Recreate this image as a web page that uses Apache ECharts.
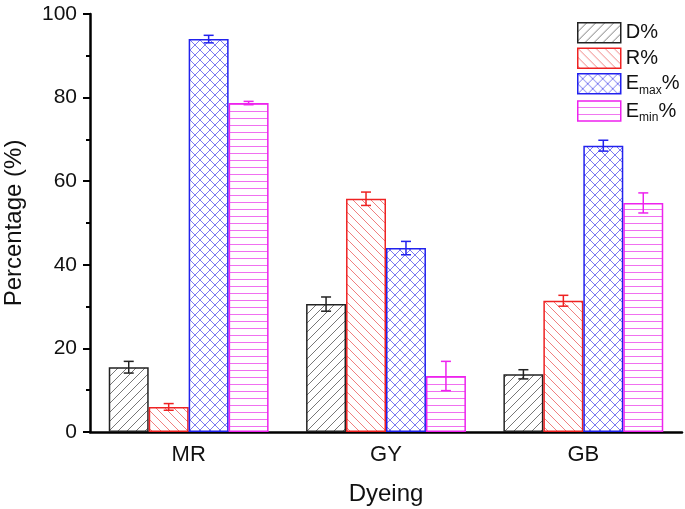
<!DOCTYPE html>
<html><head><meta charset="utf-8">
<script src="https://cdn.jsdelivr.net/npm/echarts@6/dist/echarts.min.js"></script>
<style>html,body{margin:0;padding:0;background:#fff}#c{width:685px;height:509px}</style>
</head><body><div id="c"></div>
<script>
const categories = ['MR', 'GY', 'GB'];
const seriesNames = ['D%', 'R%', 'Emax%', 'Emin%'];
const D = [15.5, 30.6, 13.8];
const R = [6.0, 55.8, 31.4];
const Emax = [94.0, 44.0, 68.5];
const Emin = [78.7, 13.4, 54.8];
const Derr = [1.4, 1.7, 1.1];
const Rerr = [0.8, 1.6, 1.3];
const EmaxErr = [0.9, 1.6, 1.3];
const EminErr = [0.4, 3.5, 2.4];
const yTicks = [0, 20, 40, 60, 80, 100];

const values = [D, R, Emax, Emin];
const errs = [Derr, Rerr, EmaxErr, EminErr];
const borderColors = ['#222222', '#ee2222', '#2222ee', '#ee22ee'];
const lineColors = ['#777777', '#f08080', '#7a7af0', '#f070f0'];
const FONT = 'Liberation Sans, Arial, sans-serif';

function makePattern(type, color) {
  const s = type === 'h' ? 7 : (type === 'x' ? 10 : 9);
  const c = document.createElement('canvas');
  c.width = s; c.height = s;
  const g = c.getContext('2d');
  g.fillStyle = '#fff'; g.fillRect(0, 0, s, s);
  g.strokeStyle = color; g.lineWidth = 1;
  g.beginPath();
  if (type === 'f') {
    g.moveTo(0, s); g.lineTo(s, 0);
    g.moveTo(-1, 1); g.lineTo(1, -1);
    g.moveTo(s - 1, s + 1); g.lineTo(s + 1, s - 1);
  } else if (type === 'b') {
    g.moveTo(0, 0); g.lineTo(s, s);
    g.moveTo(s - 1, -1); g.lineTo(s + 1, 1);
    g.moveTo(-1, s - 1); g.lineTo(1, s + 1);
  } else if (type === 'x') {
    g.moveTo(0, 0); g.lineTo(s, s);
    g.moveTo(0, s); g.lineTo(s, 0);
  } else if (type === 'h') {
    g.moveTo(0, s - 0.5); g.lineTo(s, s - 0.5);
  }
  g.stroke();
  return { image: c, repeat: 'repeat' };
}
const patterns = [
  makePattern('f', lineColors[0]),
  makePattern('b', lineColors[1]),
  makePattern('x', lineColors[2]),
  makePattern('h', lineColors[3])
];

const GAP = 0.19;
const chart = echarts.init(document.getElementById('c'), null, { renderer: 'canvas' });

const series = [];
values.forEach((v, i) => {
  series.push({
    name: seriesNames[i],
    type: 'bar',
    data: v,
    barGap: '0%',
    barCategoryGap: (GAP * 100) + '%',
    itemStyle: { color: patterns[i], borderColor: borderColors[i], borderWidth: 1.5 },
    z: 2
  });
});
values.forEach((v, i) => {
  series.push({
    name: seriesNames[i] + '_err',
    type: 'custom',
    data: v.map((val, k) => [k, val, errs[i][k]]),
    z: 5,
    renderItem: function (params, api) {
      const k = api.value(0);
      const center = api.coord([k, api.value(1)]);
      const catW = api.size([1, 0])[0];
      const bw = catW * (1 - GAP) / 4;
      const x = center[0] + (i - 1.5) * bw;
      const top = api.coord([k, api.value(1) + api.value(2)])[1];
      const bot = api.coord([k, api.value(1) - api.value(2)])[1];
      const cap = 5;
      const st = { stroke: borderColors[i], lineWidth: 1.5 };
      return {
        type: 'group',
        children: [
          { type: 'line', shape: { x1: x, y1: top, x2: x, y2: bot }, style: st },
          { type: 'line', shape: { x1: x - cap, y1: top, x2: x + cap, y2: top }, style: st },
          { type: 'line', shape: { x1: x - cap, y1: bot, x2: x + cap, y2: bot }, style: st }
        ]
      };
    }
  });
});

const option = {
  backgroundColor: '#fff',
  animation: false,
  textStyle: { fontFamily: FONT },
  legend: {
    data: seriesNames.map(n => ({ name: n, icon: 'rect' })),
    orient: 'vertical',
    left: 577, top: 22, padding: 0,
    itemWidth: 43, itemHeight: 20,
    itemGap: 4,
    itemStyle: { borderWidth: 1.5 },
    formatter: function (name) {
      if (name === 'Emax%') return 'E{sub|max}%';
      if (name === 'Emin%') return 'E{sub|min}%';
      return name;
    },
    textStyle: {
      fontSize: 20, color: '#111', fontFamily: FONT,
      rich: {
        sub: { fontSize: 12, verticalAlign: 'bottom', padding: [13, 0, 0, 0], fontFamily: FONT, color: '#111' }
      }
    }
  },
  grid: { left: 90, right: 3, top: 14, bottom: 77, containLabel: false, outerBoundsMode: 'none' },
  xAxis: [
    {
      type: 'category', data: categories,
      name: 'Dyeing', nameLocation: 'middle', nameGap: 50,
      nameTextStyle: { fontSize: 24, color: '#111', fontFamily: FONT },
      axisLine: { lineStyle: { color: '#000', width: 2.5 } },
      axisTick: { alignWithLabel: true, length: 7, lineStyle: { width: 2, color: '#000' } },
      axisLabel: { fontSize: 22, color: '#111', margin: 12, fontFamily: FONT }
    },
    {
      type: 'category', data: categories, position: 'bottom', show: true,
      axisLine: { show: false },
      axisTick: { length: 4, lineStyle: { width: 2, color: '#000' } },
      axisLabel: { show: false }
    }
  ],
  yAxis: {
    type: 'value', min: 0, max: 100, interval: 20,
    name: 'Percentage (%)', nameLocation: 'middle', nameGap: 64,
    nameTextStyle: { fontSize: 24, color: '#111', fontFamily: FONT },
    axisLine: { show: true, lineStyle: { color: '#000', width: 2.5 } },
    axisTick: { show: true, length: 7, lineStyle: { width: 2, color: '#000' } },
    minorTick: { show: true, splitNumber: 2, length: 4, lineStyle: { width: 2, color: '#000' } },
    splitLine: { show: false },
    axisLabel: { fontSize: 21, color: '#111', margin: 13, fontFamily: FONT,
      formatter: function (v) { return yTicks.indexOf(v) >= 0 ? String(v) : ''; } }
  },
  series: series
};
chart.setOption(option);
</script>
</body></html>
